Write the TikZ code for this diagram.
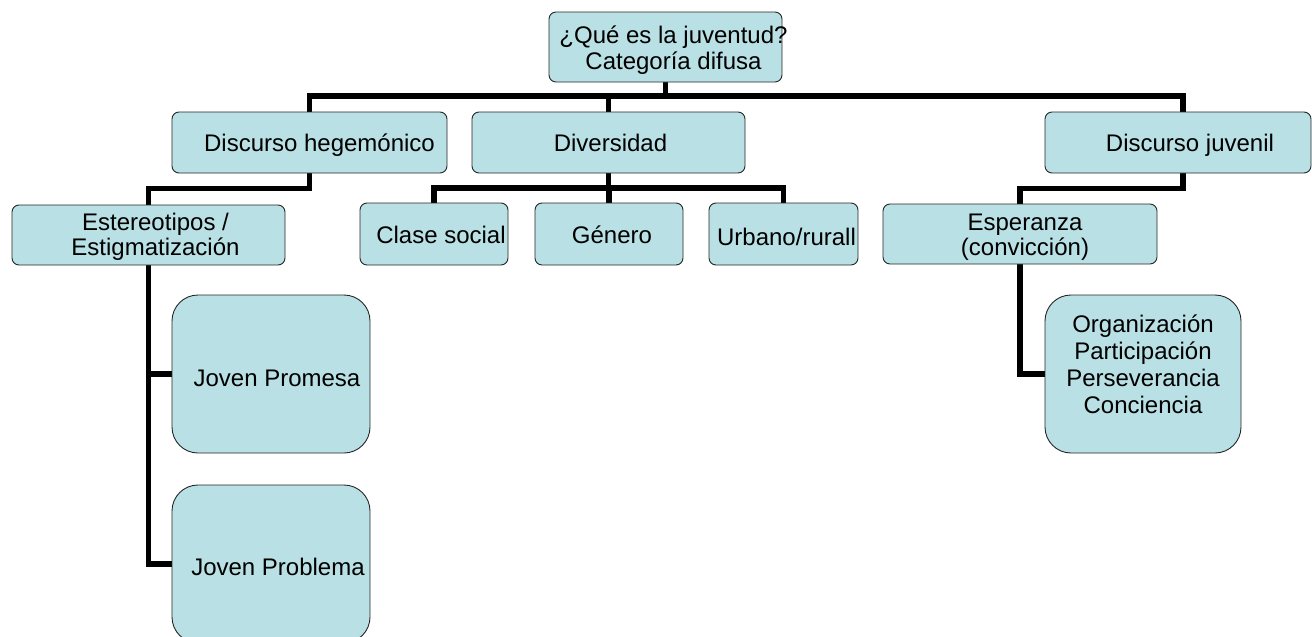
\documentclass[tikz,border=0pt]{standalone}
\usepackage{fontspec}
\setmainfont{Liberation Sans}
\usetikzlibrary{backgrounds}
\definecolor{boxfill}{RGB}{185,224,228}
\begin{document}
\begin{tikzpicture}[x=1pt,y=-1pt,
  box/.style={draw=black!85, line width=0.9pt, fill=boxfill, rounded corners=7pt, inner sep=0pt},
  bigbox/.style={box, rounded corners=26pt},
  txt/.style={font=\fontsize{24}{25.5}\selectfont, align=center, inner sep=0pt, text=black},
  conn/.style={line width=5.5pt, line join=miter, draw=black}]
\useasboundingbox (0,0) rectangle (1312,637);
% boxes
\node[box, minimum width=233pt, minimum height=70pt] (top) at (665.5,47) {};
\node[box, minimum width=275pt, minimum height=61pt] (dh) at (309.5,142.5) {};
\node[box, minimum width=273pt, minimum height=61pt] (dv) at (608.5,142.5) {};
\node[box, minimum width=266pt, minimum height=61pt] (dj) at (1178,142.5) {};
\node[box, minimum width=273pt, minimum height=60pt] (es) at (148.5,235) {};
\node[box, minimum width=148pt, minimum height=62pt] (cs) at (434,234) {};
\node[box, minimum width=148pt, minimum height=62pt] (ge) at (609,234) {};
\node[box, minimum width=149pt, minimum height=62pt] (ur) at (783.5,234) {};
\node[box, minimum width=274pt, minimum height=60pt] (esp) at (1020,234) {};
\node[bigbox, minimum width=196pt, minimum height=158pt] (org) at (1143,374) {};
\node[bigbox, minimum width=198pt, minimum height=158pt] (jp) at (271,374) {};
\node[bigbox, minimum width=198pt, minimum height=158pt] (jpb) at (271,564) {};
% texts
\node[txt] (ttop) at ([xshift=8pt,yshift=-3pt]top.center) {¿Qué es la juventud?\\Categoría difusa};
\node[txt] (tdh) at ([xshift=10pt,yshift=-3pt]dh.center) {Discurso hegemónico};
\node[txt] (tdv) at ([xshift=2pt,yshift=-0.5pt]dv.center) {Diversidad};
\node[txt] (tdj) at ([xshift=12pt,yshift=-3pt]dj.center) {Discurso juvenil};
\node[txt] (tes) at ([xshift=7pt,yshift=-2pt]es.center) {Estereotipos /\\Estigmatización};
\node[txt] (tcs) at ([xshift=7pt,yshift=-1pt]cs.center) {Clase social};
\node[txt] (tge) at ([xshift=3pt,yshift=-1pt]ge.center) {Género};
\node[txt] (tur) at ([xshift=3pt,yshift=-3pt]ur.center) {Urbano/rurall};
\node[txt] (tesp) at ([xshift=5pt,yshift=-3pt]esp.center) {Esperanza\\(convicción)};
\node[txt, font=\fontsize{24}{27}\selectfont] (torg) at ([yshift=10pt]org.center) {Organización\\Participación\\Perseverancia\\Conciencia};
\node[txt] (tjp) at ([xshift=6pt,yshift=-4pt]jp.center) {Joven Promesa};
\node[txt] (tjpb) at ([xshift=7pt,yshift=-3pt]jpb.center) {Joven Problema};
% connectors
\begin{scope}[on background layer]
\coordinate (b1) at (665.5,96);
\coordinate (b2) at (608.5,188);
\draw[conn] (top.south) -- (b1);
\draw[conn] (dh.north) |- (b1) -| ([xshift=5pt]dj.north);
\draw[conn] (dv.north) -- (dv.north |- b1);
\draw[conn] (dh.south) -- ++(0,15) -| (es.north);
\draw[conn] (dv.south) -- (b2);
\draw[conn] (cs.north) |- (b2) -| (ur.north);
\draw[conn] (ge.north) -- (ge.north |- b2);
\draw[conn] ([xshift=5pt]dj.south) -- ++(0,15) -| (esp.north);
\draw[conn] (esp.south) |- (org.west);
\draw[conn] (es.south) |- (jp.west);
\draw[conn] (es.south) |- (jpb.west);
\end{scope}
\end{tikzpicture}
\end{document}
